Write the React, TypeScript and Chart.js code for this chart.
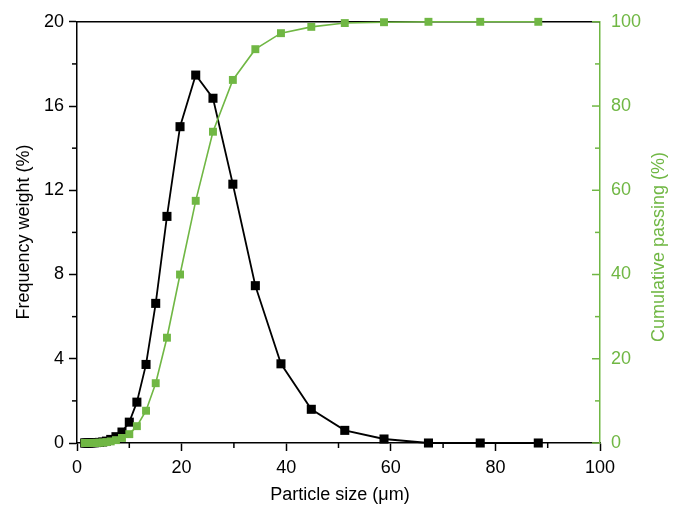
import React, { useEffect, useRef } from "react";
import { Chart, registerables } from "chart.js";

Chart.register(...registerables);

// Particle size (µm)
const sizes = [1.45, 1.66, 1.91, 2.18, 2.5, 2.86, 3.28, 3.75, 4.3, 4.92, 5.63, 6.45, 7.45, 8.6, 10.0, 11.45, 13.2, 15.05, 17.2, 19.7, 22.7, 26.0, 29.8, 34.1, 39.0, 44.8, 51.2, 58.7, 67.2, 77.1, 88.2];
// Frequency weight (%)
const frequency = [0, 0, 0, 0, 0, 0.01, 0.01, 0.02, 0.03, 0.05, 0.09, 0.17, 0.3, 0.52, 0.99, 1.94, 3.73, 6.63, 10.76, 15.02, 17.47, 16.37, 12.29, 7.47, 3.76, 1.6, 0.6, 0.19, 0, 0, 0];
// Cumulative passing (%)
const cumulative = [0, 0, 0, 0, 0, 0.01, 0.02, 0.04, 0.07, 0.12, 0.21, 0.38, 0.68, 1.2, 2.1, 4.0, 7.66, 14.2, 25.0, 40.0, 57.5, 73.9, 86.2, 93.5, 97.3, 98.8, 99.7, 99.9, 100, 100, 100];

const xMajor = [0, 20, 40, 60, 80, 100];
const xMinor = [10, 30, 50, 70, 90];
const yMajor = [0, 4, 8, 12, 16, 20];
const yMinor = [2, 6, 10, 14, 18];
const y2Major = [0, 20, 40, 60, 80, 100];
const y2Minor = [10, 30, 50, 70, 90];

const GREEN = "#70b744";
const FONT = "'Liberation Sans', Arial, sans-serif";

const decor = {
  id: "decor",
  beforeDatasetsDraw(chart: any) {
    const { ctx, chartArea: a, scales } = chart;
    ctx.save();
    ctx.lineWidth = 1.5;
    const line = (x1: number, y1: number, x2: number, y2: number) => {
      ctx.beginPath();
      ctx.moveTo(x1, y1);
      ctx.lineTo(x2, y2);
      ctx.stroke();
    };
    ctx.strokeStyle = "#000";
    line(a.left, a.top, a.right, a.top);
    xMinor.forEach((v) => {
      const px = scales.x.getPixelForValue(v);
      line(px, a.bottom, px, a.bottom + 5);
    });
    yMinor.forEach((v) => {
      const py = scales.y.getPixelForValue(v);
      line(a.left - 5, py, a.left, py);
    });
    ctx.strokeStyle = GREEN;
    y2Major.forEach((v) => {
      const py = scales.y2.getPixelForValue(v);
      line(a.right - 8, py, a.right, py);
    });
    y2Minor.forEach((v) => {
      const py = scales.y2.getPixelForValue(v);
      line(a.right - 5, py, a.right, py);
    });
    ctx.restore();
  },
  afterDraw(chart: any) {
    const { ctx } = chart;
    ctx.save();
    ctx.font = `18px ${FONT}`;
    ctx.textAlign = "center";
    ctx.textBaseline = "middle";
    ctx.fillStyle = "#000";
    ctx.fillText("Particle size (μm)", 340, 495);
    ctx.save();
    ctx.translate(24, 232);
    ctx.rotate(-Math.PI / 2);
    ctx.fillText("Frequency weight (%)", 0, 0);
    ctx.restore();
    ctx.save();
    ctx.translate(659, 247);
    ctx.rotate(-Math.PI / 2);
    ctx.fillStyle = GREEN;
    ctx.fillText("Cumulative passing (%)", 0, 0);
    ctx.restore();
    ctx.restore();
  },
};

export default function App() {
  const ref = useRef<HTMLCanvasElement>(null);
  useEffect(() => {
    if (!ref.current) return;
    const chart = new Chart(ref.current, {
      type: "line",
      data: {
        datasets: [
          {
            label: "Frequency weight",
            data: sizes.map((s, i) => ({ x: s, y: frequency[i] })),
            yAxisID: "y",
            order: 1,
            borderColor: "#000",
            backgroundColor: "#000",
            borderWidth: 1.8,
            pointStyle: "rect",
            pointRadius: 6.4,
            pointBorderWidth: 0,
            pointBackgroundColor: "#000",
            tension: 0,
            clip: false,
          },
          {
            label: "Cumulative passing",
            data: sizes.map((s, i) => ({ x: s, y: cumulative[i] })),
            yAxisID: "y2",
            order: 0,
            borderColor: GREEN,
            backgroundColor: GREEN,
            borderWidth: 1.6,
            pointStyle: "rect",
            pointRadius: 5.6,
            pointBorderWidth: 0,
            pointBackgroundColor: GREEN,
            tension: 0,
            clip: false,
          },
        ],
      },
      options: {
        responsive: false,
        animation: false,
        events: [],
        layout: { padding: { top: 21, left: 0, right: 0, bottom: 0 } },
        plugins: { legend: { display: false }, tooltip: { enabled: false } },
        scales: {
          x: {
            type: "linear",
            position: "bottom",
            min: 0,
            max: 100,
            afterBuildTicks: (s: any) => {
              s.ticks = xMajor.map((v) => ({ value: v }));
            },
            afterFit: (s: any) => {
              s.height = 63;
            },
            grid: { drawOnChartArea: false, drawTicks: true, tickLength: 8, tickColor: "#000", tickWidth: 1.5, color: "#000" },
            border: { color: "#000", width: 1.5 },
            ticks: { color: "#000", font: { family: FONT, size: 18 }, padding: 6, maxRotation: 0, autoSkip: false },
          },
          y: {
            type: "linear",
            position: "left",
            min: 0,
            max: 20,
            afterBuildTicks: (s: any) => {
              s.ticks = yMajor.map((v) => ({ value: v }));
            },
            afterFit: (s: any) => {
              s.width = 77;
            },
            grid: { drawOnChartArea: false, drawTicks: true, tickLength: 8, tickColor: "#000", tickWidth: 1.5, color: "#000" },
            border: { color: "#000", width: 1.5 },
            ticks: { color: "#000", font: { family: FONT, size: 18 }, padding: 5, autoSkip: false },
          },
          y2: {
            type: "linear",
            position: "right",
            min: 0,
            max: 100,
            afterBuildTicks: (s: any) => {
              s.ticks = y2Major.map((v) => ({ value: v }));
            },
            afterFit: (s: any) => {
              s.width = 78;
            },
            grid: { drawOnChartArea: false, drawTicks: false },
            border: { color: GREEN, width: 1.5 },
            ticks: { color: GREEN, font: { family: FONT, size: 18 }, padding: 11, autoSkip: false },
          },
        },
      },
      plugins: [decor],
    });
    return () => chart.destroy();
  }, []);
  return (
    <div style={{ position: "absolute", left: 0, top: 0, width: 678, height: 506, background: "#fff" }}>
      <canvas ref={ref} width={678} height={506} style={{ display: "block" }} />
    </div>
  );
}
